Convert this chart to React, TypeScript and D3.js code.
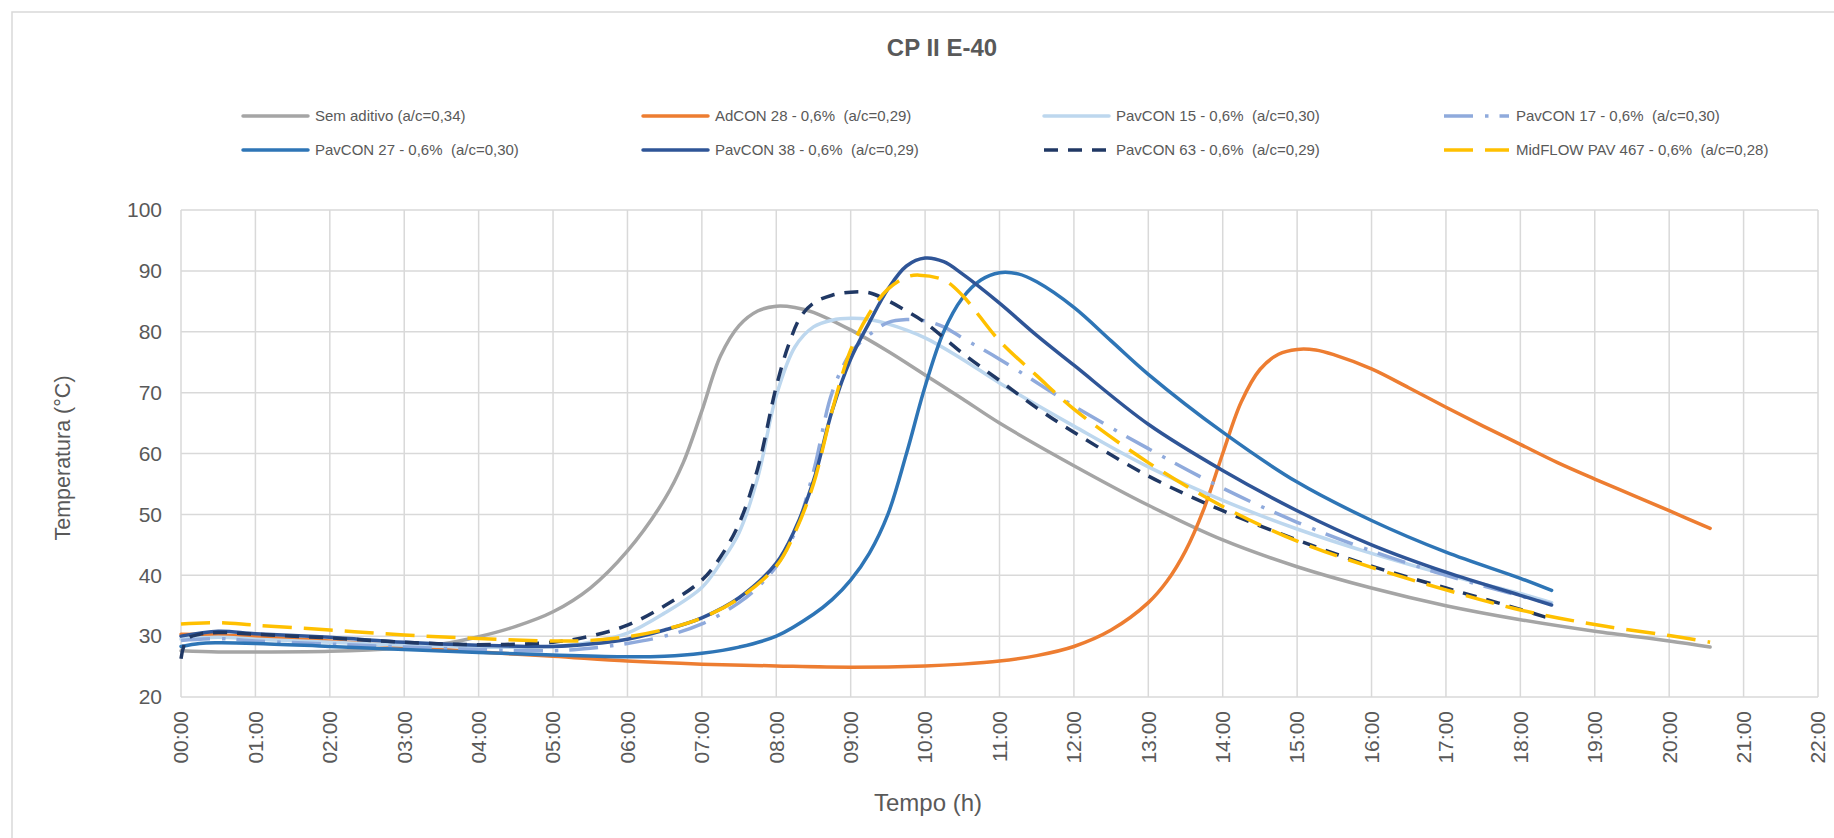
import React from "react";
import * as d3 from "d3";

type P = [number, number];

const hourTicks = d3.range(0, 23);
const tempTicks = [20, 30, 40, 50, 60, 70, 80, 90, 100];

const semAditivo: P[] = [[0,27.6],[0.5,27.4],[1,27.4],[2,27.5],[3,28.1],[3.5,28.7],[4,29.9],[4.5,31.6],[5,34],[5.5,37.9],[6,44],[6.5,52.5],[6.75,58.5],[7,67],[7.25,76],[7.5,81],[7.75,83.4],[8,84.2],[8.25,84],[8.5,83.2],[9,80.3],[9.5,76.8],[10,72.9],[10.5,69],[11,65],[12,58],[13,51.5],[14,45.8],[15,41.4],[16,37.9],[17,35],[18,32.7],[19,30.8],[20,29.2],[20.55,28.2]];
const adcon28: P[] = [[0,30.3],[0.5,30.2],[1,29.9],[2,29.2],[3,28.3],[4,27.4],[5,26.7],[6,25.9],[7,25.4],[8,25.1],[9,24.9],[10,25.1],[10.5,25.4],[11,25.9],[11.5,26.8],[12,28.3],[12.5,31],[13,35.5],[13.25,39],[13.5,44],[13.75,51],[14,60],[14.25,68.5],[14.5,73.8],[14.75,76.3],[15,77.1],[15.25,77],[15.5,76.2],[16,73.9],[16.5,70.8],[17,67.6],[17.5,64.5],[18,61.5],[18.5,58.5],[19,55.8],[19.5,53.2],[20,50.6],[20.55,47.7]];
const pavcon15: P[] = [[0,29.5],[0.5,29.8],[1,29.5],[2,29],[3,28.5],[4,28.2],[5,28.3],[5.5,29],[6,30.5],[6.5,33.8],[7,38],[7.25,42],[7.5,47],[7.75,56],[8,69.5],[8.25,77.5],[8.5,80.8],[8.75,81.9],[9,82.2],[9.25,82],[9.5,81.3],[10,79],[10.5,75.5],[11,71.6],[12,64.5],[13,57.8],[14,52.3],[15,47.6],[16,43.6],[17,40.1],[18,37],[18.42,35.5]];
const pavcon17: P[] = [[0,29.3],[0.5,29.6],[1,29.2],[2,28.7],[3,28.2],[4,27.8],[5,27.6],[5.5,28],[6,28.8],[6.5,30],[7,32],[7.5,35.5],[7.75,38],[8,41.5],[8.25,47],[8.5,57],[8.75,70],[9,76.5],[9.25,79.5],[9.5,81.5],[9.75,82],[10,81.8],[10.25,80.8],[10.5,79],[11,75.5],[12,67.8],[13,60.8],[14,54.3],[15,48.7],[16,44],[17,40],[18,36.6],[18.42,35.3]];
const pavcon27: P[] = [[0,28.3],[0.25,28.8],[0.5,28.9],[1,28.8],[2,28.3],[3,27.8],[4,27.3],[5,26.9],[6,26.6],[6.5,26.7],[7,27.2],[7.5,28.2],[8,30],[8.5,33.6],[8.75,36],[9,39.2],[9.25,43.6],[9.5,50],[9.75,60],[10,71],[10.25,80],[10.5,85.5],[10.75,88.5],[11,89.7],[11.25,89.5],[11.5,88.2],[12,84],[12.5,78.5],[13,73],[14,63.5],[15,55.3],[16,49],[17,43.8],[18,39.5],[18.42,37.5]];
const pavcon38: P[] = [[0,30],[0.5,30.8],[1,30.4],[2,29.8],[3,29],[4,28.5],[5,28.3],[5.5,28.7],[6,29.5],[6.5,31],[7,33],[7.5,36.3],[8,42],[8.25,47.5],[8.5,55.5],[8.75,67],[9,75.5],[9.25,81.5],[9.5,87],[9.75,90.8],[10,92.1],[10.25,91.5],[10.5,89.5],[11,84.7],[11.5,79.4],[12,74.5],[13,64.8],[14,57.2],[15,50.6],[16,45],[17,40.5],[18,36.7],[18.42,35.1]];
const pavcon63: P[] = [[0,26.3],[0.08,29.5],[0.25,30.3],[0.5,30.6],[1,30.3],[2,29.7],[3,29],[4,28.6],[5,29],[5.5,30],[6,31.8],[6.5,35],[7,39.2],[7.25,43],[7.5,48.5],[7.75,57.5],[8,71],[8.17,78],[8.33,82.5],[8.5,84.7],[8.75,86],[9,86.5],[9.25,86.4],[9.5,85.1],[9.75,83.4],[10,81.5],[10.5,76.5],[11,72],[11.5,67.5],[12,63.5],[13,56.3],[14,50.6],[15,45.8],[16,41.5],[17,37.9],[18,34.4],[18.42,32.8]];
const midflow467: P[] = [[0,32],[0.5,32.2],[1,31.8],[2,31],[3,30.2],[4,29.6],[5,29.2],[5.5,29.3],[6,29.9],[6.5,31.1],[7,33],[7.5,36.2],[8,41.5],[8.25,47],[8.5,55],[8.75,67],[9,77],[9.25,83],[9.5,87],[9.75,89],[9.92,89.3],[10.25,88.5],[10.5,86],[11,78.5],[11.5,72.8],[12,67.3],[13,58.5],[14,51.3],[15,45.6],[16,41.3],[17,37.6],[18,34.3],[19,31.9],[20,30.1],[20.55,29]];

const seriesNames = [
  "Sem aditivo (a/c=0,34)",
  "AdCON 28 - 0,6%  (a/c=0,29)",
  "PavCON 15 - 0,6%  (a/c=0,30)",
  "PavCON 17 - 0,6%  (a/c=0,30)",
  "PavCON 27 - 0,6%  (a/c=0,30)",
  "PavCON 38 - 0,6%  (a/c=0,29)",
  "PavCON 63 - 0,6%  (a/c=0,29)",
  "MidFLOW PAV 467 - 0,6%  (a/c=0,28)",
];
const seriesData = [semAditivo, adcon28, pavcon15, pavcon17, pavcon27, pavcon38, pavcon63, midflow467];
const seriesColors = ["#A5A5A5", "#ED7D31", "#BDD7EE", "#8FAADC", "#2E75B6", "#2F5597", "#203864", "#FFC000"];
const seriesDash = ["", "", "", "29 12 3.5 11", "", "", "14 10", "29 12"];

const W = 1834, H = 838;
const left = 181, right = 1818, top = 210, bottom = 697;
const textColor = "#595959";
const font = "'Liberation Sans', Arial, sans-serif";

export default function App() {
  const x = d3.scaleLinear().domain([0, 22]).range([left, right]);
  const y = d3.scaleLinear().domain([20, 100]).range([bottom, top]);
  const line = d3.line<P>().x(d => x(d[0])).y(d => y(d[1])).curve(d3.curveCatmullRom.alpha(0.5));
  const fmt = (h: number) => `${String(h).padStart(2, "0")}:00`;
  const legendCols = [243, 643, 1044, 1444];
  const legendRows = [116, 150];

  return (
    <svg width={W} height={H} style={{ position: "absolute", left: 0, top: 0, background: "#fff" }} fontFamily={font}>
      <rect x={0} y={0} width={W} height={H} fill="#fff" />
      <rect x={12} y={12} width={W} height={H} fill="#fff" stroke="#d9d9d9" strokeWidth={1.5} />
      <text x={942} y={56} textAnchor="middle" fontSize={24} fontWeight="bold" fill={textColor}>CP II E-40</text>
      {seriesNames.map((name, i) => {
        const cx = legendCols[i % 4];
        const cy = legendRows[Math.floor(i / 4)];
        return (
          <g key={name}>
            <line x1={cx} x2={cx + 65} y1={cy} y2={cy} stroke={seriesColors[i]} strokeWidth={3.5}
              strokeDasharray={seriesDash[i] || undefined} strokeLinecap={seriesDash[i] ? "butt" : "round"} />
            <text x={cx + 72} y={cy} dy="0.35em" fontSize={15} fill={textColor} style={{ whiteSpace: "pre" }}>{name}</text>
          </g>
        );
      })}
      {hourTicks.map(h => (
        <line key={"vx" + h} x1={x(h)} x2={x(h)} y1={top} y2={bottom} stroke="#d9d9d9" strokeWidth={1.5} />
      ))}
      {tempTicks.map(t => (
        <line key={"hy" + t} x1={left} x2={right} y1={y(t)} y2={y(t)} stroke="#d9d9d9" strokeWidth={1.5} />
      ))}
      {tempTicks.map(t => (
        <text key={"ty" + t} x={162} y={y(t)} dy="0.35em" textAnchor="end" fontSize={21} fill={textColor}>{t}</text>
      ))}
      {hourTicks.map(h => (
        <text key={"tx" + h} transform={`translate(${x(h)},711) rotate(-90)`} dy="0.35em" textAnchor="end" fontSize={21} fill={textColor}>{fmt(h)}</text>
      ))}
      <g>
        {seriesData.map((d, i) => (
          <path key={"s" + i} d={line(d) || ""} fill="none" stroke={seriesColors[i]} strokeWidth={3.5}
            strokeDasharray={seriesDash[i] || undefined} strokeLinecap={seriesDash[i] ? "butt" : "round"} strokeLinejoin="round" />
        ))}
      </g>
      <text transform={`translate(62,458) rotate(-90)`} dy="0.35em" textAnchor="middle" fontSize={21.5} fill={textColor}>Temperatura (°C)</text>
      <text x={928} y={811} textAnchor="middle" fontSize={24} fill={textColor}>Tempo (h)</text>
    </svg>
  );
}
